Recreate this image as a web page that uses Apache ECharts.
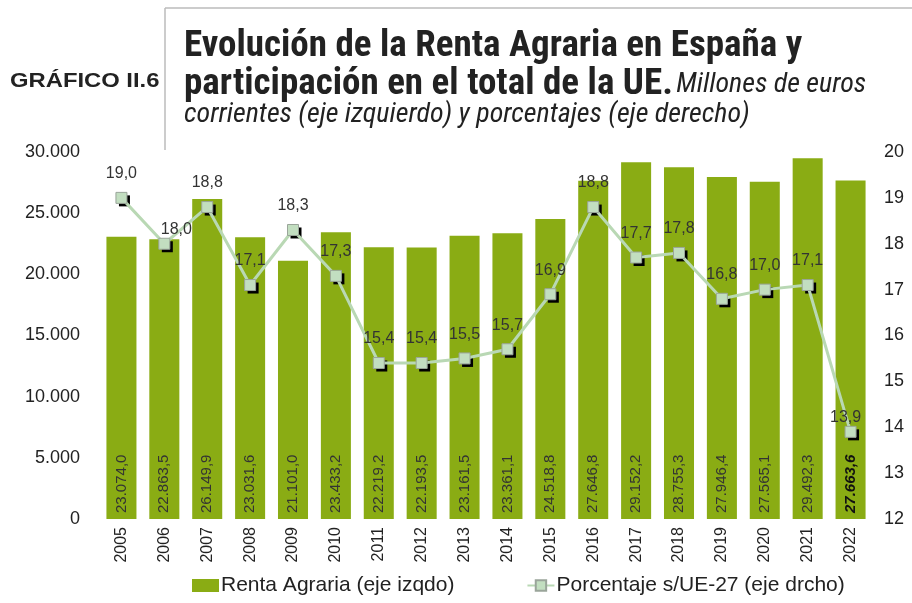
<!DOCTYPE html>
<html><head><meta charset="utf-8">
<script src="https://cdn.jsdelivr.net/npm/echarts@6/dist/echarts.min.js"></script>
<style>html,body{margin:0;padding:0;background:#fff}#c{width:912px;height:603px}</style>
</head><body><div id="c"></div>
<script>
const years = ['2005','2006','2007','2008','2009','2010','2011','2012','2013','2014','2015','2016','2017','2018','2019','2020','2021','2022'];
const renta = [23074.0,22863.5,26149.9,23031.6,21101.0,23433.2,22219.2,22193.5,23161.5,23361.1,24518.8,27646.8,29152.2,28755.3,27946.4,27565.1,29492.3,27663.6];
const porcentaje = [19.0,18.0,18.8,17.1,18.3,17.3,15.4,15.4,15.5,15.7,16.9,18.8,17.7,17.8,16.8,17.0,17.1,13.9];

function fmtThousands(v, dec){
  let s = v.toFixed(dec);
  let parts = s.split('.');
  parts[0] = parts[0].replace(/\B(?=(\d{3})+(?!\d))/g, '.');
  return dec ? parts[0] + ',' + parts[1] : parts[0];
}
const FONT = '"Liberation Sans", Arial, sans-serif';
const NARROW = '"Liberation Sans Narrow", "Roboto Condensed", "Liberation Sans", Arial, sans-serif';

const lineData = porcentaje.map((v,i)=>{
  const o = {value:v};
  if (i===1) o.label = {offset:[12,10]};
  if (i===porcentaje.length-1) o.label = {offset:[-5,10]};
  return o;
});

const chart = echarts.init(document.getElementById('c'));
chart.setOption({
  animation:false,
  textStyle:{fontFamily:FONT},
  graphic:[
    {type:'line', shape:{x1:165,y1:8,x2:912,y2:8}, style:{stroke:'#bbbbbb',lineWidth:1.5}},
    {type:'line', shape:{x1:165,y1:8,x2:165,y2:150}, style:{stroke:'#bbbbbb',lineWidth:1.5}},
    {type:'text', x:10, y:71, scaleX:1.19, style:{text:'GRÁFICO II.6', font:'bold 20px '+FONT, fill:'#222'}},
    {type:'text', left:184, top:28, style:{text:'Evolución de la Renta Agraria en España y', font:'bold 37px '+NARROW, fill:'#222'}},
    {type:'text', left:184, top:66, style:{rich:{
        a:{font:'bold 37px '+NARROW, fill:'#222'},
        b:{font:'italic 28px '+NARROW, fill:'#222'}},
      text:'{a|participación en el total de la UE.} {b|Millones de euros}'}},
    {type:'text', left:184, top:101, style:{text:'corrientes (eje izquierdo) y porcentajes (eje derecho)', font:'italic 28px '+NARROW, fill:'#222'}}
  ],
  grid:{left:100, right:40, top:152, bottom:84},
  legend:{
    bottom:2, left:187, itemGap:72, itemWidth:27, itemHeight:13,
    textStyle:{fontSize:21, color:'#222', padding:[0,0,0,-3]},
    data:[{name:'Renta Agraria (eje izqdo)', icon:'rect'},{name:'Porcentaje s/UE-27 (eje drcho)'}]
  },
  xAxis:{
    type:'category', data:years,
    axisLine:{show:false}, axisTick:{show:false},
    axisLabel:{rotate:90, fontSize:16, color:'#222', margin:8}
  },
  yAxis:[
    {type:'value', min:0, max:30000, interval:5000, splitLine:{show:false},
     axisLabel:{fontSize:18, color:'#222', margin:20, formatter:v=>fmtThousands(v,0)}},
    {type:'value', min:12, max:20, interval:1, splitLine:{show:false},
     axisLabel:{fontSize:18, color:'#222', margin:12}}
  ],
  series:[
    {name:'Renta Agraria (eje izqdo)', type:'bar', data:renta, barCategoryGap:'30%',
     itemStyle:{color:'#8aac14'},
     label:{show:true, position:'insideBottom', rotate:90, align:'left', verticalAlign:'middle', distance:6,
       fontSize:15, color:'#333',
       formatter:p=> p.dataIndex===renta.length-1 ? '{b|'+fmtThousands(p.value,1)+'}' : fmtThousands(p.value,1),
       rich:{b:{fontWeight:'bold', fontStyle:'italic', fontSize:15, color:'#111'}}}},
    {name:'sombra', type:'line', yAxisIndex:1, data:porcentaje, z:2,
     symbol:'rect', symbolSize:11, symbolOffset:[3,3], showAllSymbol:true,
     lineStyle:{width:0, opacity:0}, itemStyle:{color:'#000', borderWidth:0}, silent:true, label:{show:false}},
    {name:'Porcentaje s/UE-27 (eje drcho)', type:'line', yAxisIndex:1, data:lineData, z:3,
     symbol:'rect', symbolSize:11,
     lineStyle:{color:'#b9d8b4', width:3},
     itemStyle:{color:'#c2dec0', borderColor:'#9aa59a', borderWidth:1},
     label:{show:true, position:'top', distance:10, fontSize:16, color:'#333', formatter:p=>p.value.toFixed(1).replace('.',',')}}
  ]
});
</script></body></html>
